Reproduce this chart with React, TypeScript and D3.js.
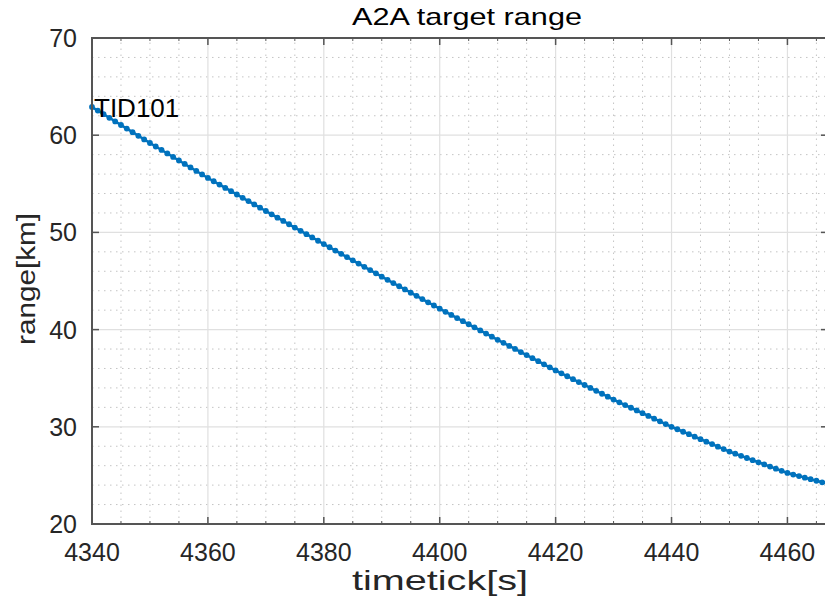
import React, { useRef, useEffect } from 'react';
import { select, scaleLinear, line, range } from 'd3';

// target range per time tick (1 s steps)
const timeStart = 4340;
const rangeKm = [
  62.9, 62.53, 62.16, 61.79, 61.42, 61.05, 60.68, 60.31, 59.94, 59.57,
  59.2, 58.84, 58.48, 58.12, 57.76, 57.4, 57.04, 56.68, 56.32, 55.96,
  55.6, 55.26, 54.92, 54.58, 54.24, 53.9, 53.56, 53.22, 52.88, 52.54,
  52.2, 51.86, 51.52, 51.18, 50.84, 50.5, 50.16, 49.82, 49.48, 49.14,
  48.8, 48.47, 48.13, 47.8, 47.46, 47.13, 46.79, 46.46, 46.12, 45.79,
  45.45, 45.12, 44.79, 44.46, 44.13, 43.8, 43.47, 43.14, 42.81, 42.48,
  42.15, 41.83, 41.51, 41.19, 40.87, 40.55, 40.23, 39.91, 39.59, 39.27,
  38.95, 38.64, 38.32, 38.01, 37.69, 37.38, 37.06, 36.75, 36.43, 36.12,
  35.8, 35.5, 35.2, 34.9, 34.6, 34.3, 34.0, 33.7, 33.4, 33.1,
  32.8, 32.52, 32.24, 31.96, 31.68, 31.4, 31.12, 30.84, 30.56, 30.28,
  30.0, 29.75, 29.49, 29.24, 28.98, 28.73, 28.47, 28.22, 27.96, 27.71,
  27.45, 27.23, 27.01, 26.79, 26.57, 26.35, 26.13, 25.91, 25.69, 25.47,
  25.25, 25.09, 24.93, 24.77, 24.61, 24.45, 24.29, 24.13
];
const timeTicks = [4340, 4360, 4380, 4400, 4420, 4440, 4460];
const rangeTicks = [20, 30, 40, 50, 60, 70];
const xDomain = [4340, 4467];
const yDomain = [20, 70];
const title = 'A2A target range';
const xLabel = 'timetick[s]';
const yLabel = 'range[km]';
const tagText = 'TID101';

const W = 833, H = 607;
const margin = { top: 38, right: 5, bottom: 83, left: 92 };
const font = 'Liberation Sans, Arial, sans-serif';
const blue = '#0072BD';

function RangeChart() {
  const svgRef = useRef(null);

  useEffect(() => {
    const svg = select(svgRef.current);
    svg.selectAll('*').remove();

    const data = rangeKm.map((v, i) => ({ t: timeStart + i, r: v }));

    const x = scaleLinear().domain(xDomain).range([margin.left, W - margin.right]);
    const y = scaleLinear().domain(yDomain).range([H - margin.bottom, margin.top]);
    const [x0, x1] = x.range();
    const [y0, y1] = y.range();

    svg.append('rect').attr('x', x0).attr('y', y1).attr('width', x1 - x0).attr('height', y0 - y1).attr('fill', '#fff');

    // minor grid (dotted)
    const xMinor = range(4345, 4467, 5).filter(v => v % 20 !== 0);
    const yMinor = range(22, 70, 2).filter(v => v % 10 !== 0);
    const g = svg.append('g');
    g.selectAll('.xm').data(xMinor).join('line')
      .attr('x1', d => x(d)).attr('x2', d => x(d)).attr('y1', y0).attr('y2', y1)
      .attr('stroke', '#c4c4c4').attr('stroke-width', 1).attr('stroke-dasharray', '1.5,4.5');
    g.selectAll('.ym').data(yMinor).join('line')
      .attr('y1', d => y(d)).attr('y2', d => y(d)).attr('x1', x0).attr('x2', x1)
      .attr('stroke', '#c4c4c4').attr('stroke-width', 1).attr('stroke-dasharray', '1.5,4.5');

    // major grid
    g.selectAll('.xg').data(timeTicks.slice(1)).join('line')
      .attr('x1', d => x(d)).attr('x2', d => x(d)).attr('y1', y0).attr('y2', y1)
      .attr('stroke', '#e0e0e0').attr('stroke-width', 1.2);
    g.selectAll('.yg').data(rangeTicks.slice(1, -1)).join('line')
      .attr('y1', d => y(d)).attr('y2', d => y(d)).attr('x1', x0).attr('x2', x1)
      .attr('stroke', '#e0e0e0').attr('stroke-width', 1.2);

    // data line with dots
    const path = line().x(d => x(d.t)).y(d => y(d.r));
    svg.append('path').datum(data).attr('d', path).attr('fill', 'none').attr('stroke', blue).attr('stroke-width', 2.5);
    svg.selectAll('.dot').data(data).join('circle')
      .attr('cx', d => x(d.t)).attr('cy', d => y(d.r)).attr('r', 2.9).attr('fill', blue);

    // box and ticks
    const axisColor = '#555';
    svg.append('rect').attr('x', x0).attr('y', y1).attr('width', x1 - x0).attr('height', y0 - y1)
      .attr('fill', 'none').attr('stroke', axisColor).attr('stroke-width', 2);
    const tk = svg.append('g').attr('stroke', axisColor).attr('stroke-width', 1.5);
    timeTicks.forEach(t => {
      tk.append('line').attr('x1', x(t)).attr('x2', x(t)).attr('y1', y0).attr('y2', y0 - 7);
      tk.append('line').attr('x1', x(t)).attr('x2', x(t)).attr('y1', y1).attr('y2', y1 + 7);
    });
    rangeTicks.forEach(r => {
      tk.append('line').attr('y1', y(r)).attr('y2', y(r)).attr('x1', x0).attr('x2', x0 + 7);
      tk.append('line').attr('y1', y(r)).attr('y2', y(r)).attr('x1', x1).attr('x2', x1 - 7);
    });
    xMinor.forEach(t => {
      tk.append('line').attr('x1', x(t)).attr('x2', x(t)).attr('y1', y0).attr('y2', y0 - 3).attr('stroke-width', 1);
      tk.append('line').attr('x1', x(t)).attr('x2', x(t)).attr('y1', y1).attr('y2', y1 + 3).attr('stroke-width', 1);
    });

    // tick labels
    svg.selectAll('.xt').data(timeTicks).join('text')
      .attr('x', d => x(d)).attr('y', y0 + 37).attr('text-anchor', 'middle')
      .attr('font-family', font).attr('font-size', 25).attr('fill', '#262626').text(d => d);
    svg.selectAll('.yt').data(rangeTicks).join('text')
      .attr('x', x0 - 15).attr('y', d => y(d) + 9).attr('text-anchor', 'end')
      .attr('font-family', font).attr('font-size', 25).attr('fill', '#262626').text(d => d);

    // labels
    svg.append('text').attr('x', 467).attr('y', 25).attr('text-anchor', 'middle')
      .attr('font-family', font).attr('font-size', 24).attr('fill', '#000')
      .attr('textLength', 230).attr('lengthAdjust', 'spacingAndGlyphs').text(title);
    svg.append('text').attr('x', 440).attr('y', 590).attr('text-anchor', 'middle')
      .attr('font-family', font).attr('font-size', 28).attr('fill', '#262626')
      .attr('textLength', 176).attr('lengthAdjust', 'spacingAndGlyphs').text(xLabel);
    svg.append('text').attr('transform', `translate(35,279) rotate(-90)`).attr('text-anchor', 'middle')
      .attr('font-family', font).attr('font-size', 26).attr('fill', '#262626')
      .attr('textLength', 132).attr('lengthAdjust', 'spacingAndGlyphs').text(yLabel);

    svg.append('text').attr('x', x(data[0].t) + 2).attr('y', y(data[0].r) + 10)
      .attr('font-family', font).attr('font-size', 26).attr('fill', '#000').text(tagText);
  }, []);

  return <svg ref={svgRef} width={W} height={H} style={{ display: 'block', background: '#fff' }} />;
}

export default function App() {
  return (
    <div style={{ margin: -8 }}>
      <RangeChart />
    </div>
  );
}
